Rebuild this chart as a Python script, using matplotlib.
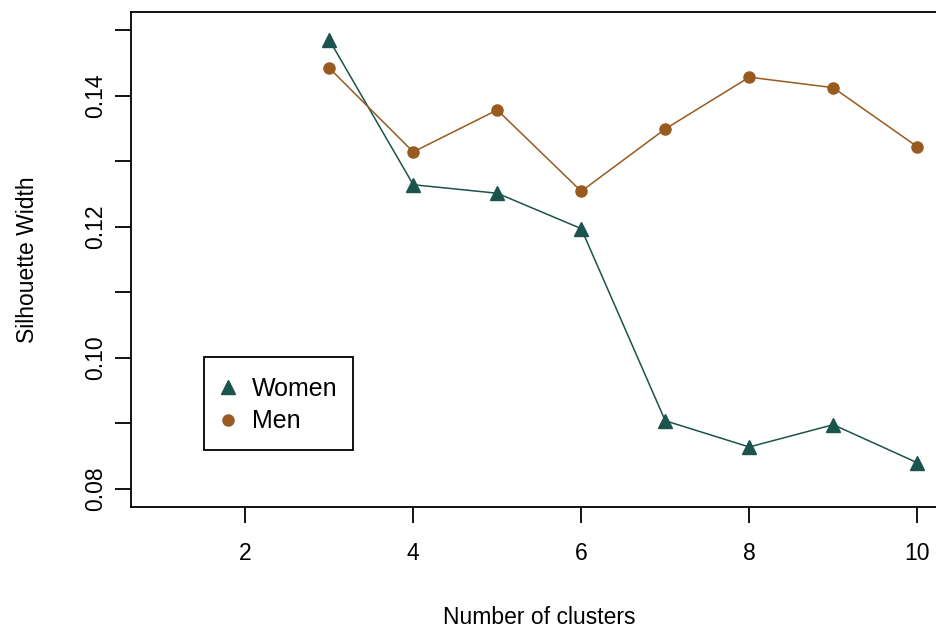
import matplotlib
matplotlib.use('Agg')
import matplotlib.pyplot as plt
from matplotlib.patches import Rectangle

plt.rcParams['font.family'] = ['Liberation Sans', 'DejaVu Sans']

# cluster counts and silhouette widths
clusters = [3, 4, 5, 6, 7, 8, 9, 10]
women = [0.1485, 0.1264, 0.1251, 0.1197, 0.0904, 0.0864, 0.0898, 0.0840]
men = [0.1442, 0.1314, 0.1378, 0.1254, 0.1349, 0.1428, 0.1412, 0.1322]

x_ticks = [2, 4, 6, 8, 10]
y_ticks = [0.08, 0.09, 0.10, 0.11, 0.12, 0.13, 0.14, 0.15]
y_labels = ['0.08', '', '0.10', '', '0.12', '', '0.14', '']

women_col = '#1b534d'
men_col = '#995a20'

fig = plt.figure(figsize=(9.37, 6.29), dpi=100)
ax = fig.add_axes([0.1398, 0.1940, 0.8714, 0.7870])

ax.plot(clusters, women, color=women_col, lw=1.1, marker='^', ms=10.5,
        mec=women_col, mfc=women_col, label='Women')
ax.plot(clusters, men, color=men_col, lw=1.1, marker='o', ms=8,
        mec=men_col, mfc=men_col, label='Men')

ax.set_xlim(0.64, 10.36)
ax.set_ylim(0.07725, 0.15275)
ax.set_xticks(x_ticks)
ax.set_xticklabels([str(v) for v in x_ticks])
ax.set_yticks(y_ticks)
ax.set_yticklabels(y_labels, rotation=90, va='center')

for s in ax.spines.values():
    s.set_linewidth(1.3)
ax.tick_params(axis='both', direction='out', length=11.5, width=1.3, labelsize=16.5)
ax.tick_params(axis='x', pad=14)
ax.tick_params(axis='y', pad=6)

ax.set_xlabel('Number of clusters', fontsize=16.5, labelpad=29)
ax.set_ylabel('Silhouette Width', fontsize=16.5, labelpad=32)

# legend box drawn like R's, taller than matplotlib's default padding
ax.add_patch(Rectangle((0.0894, 0.1152), 0.1825, 0.1878, transform=ax.transAxes,
                       fill=True, facecolor='white', edgecolor='black', lw=1.3, zorder=4))
leg = ax.legend(loc='center left', bbox_to_anchor=(0.1066, 0.206), borderaxespad=0,
                fontsize=18, frameon=False, handlelength=0.8, handletextpad=0.56,
                borderpad=0, labelspacing=0.35)
leg.set_zorder(5)
for line in leg.get_lines():
    line.set_linestyle('none')

fig.savefig('out.png', dpi=100)
